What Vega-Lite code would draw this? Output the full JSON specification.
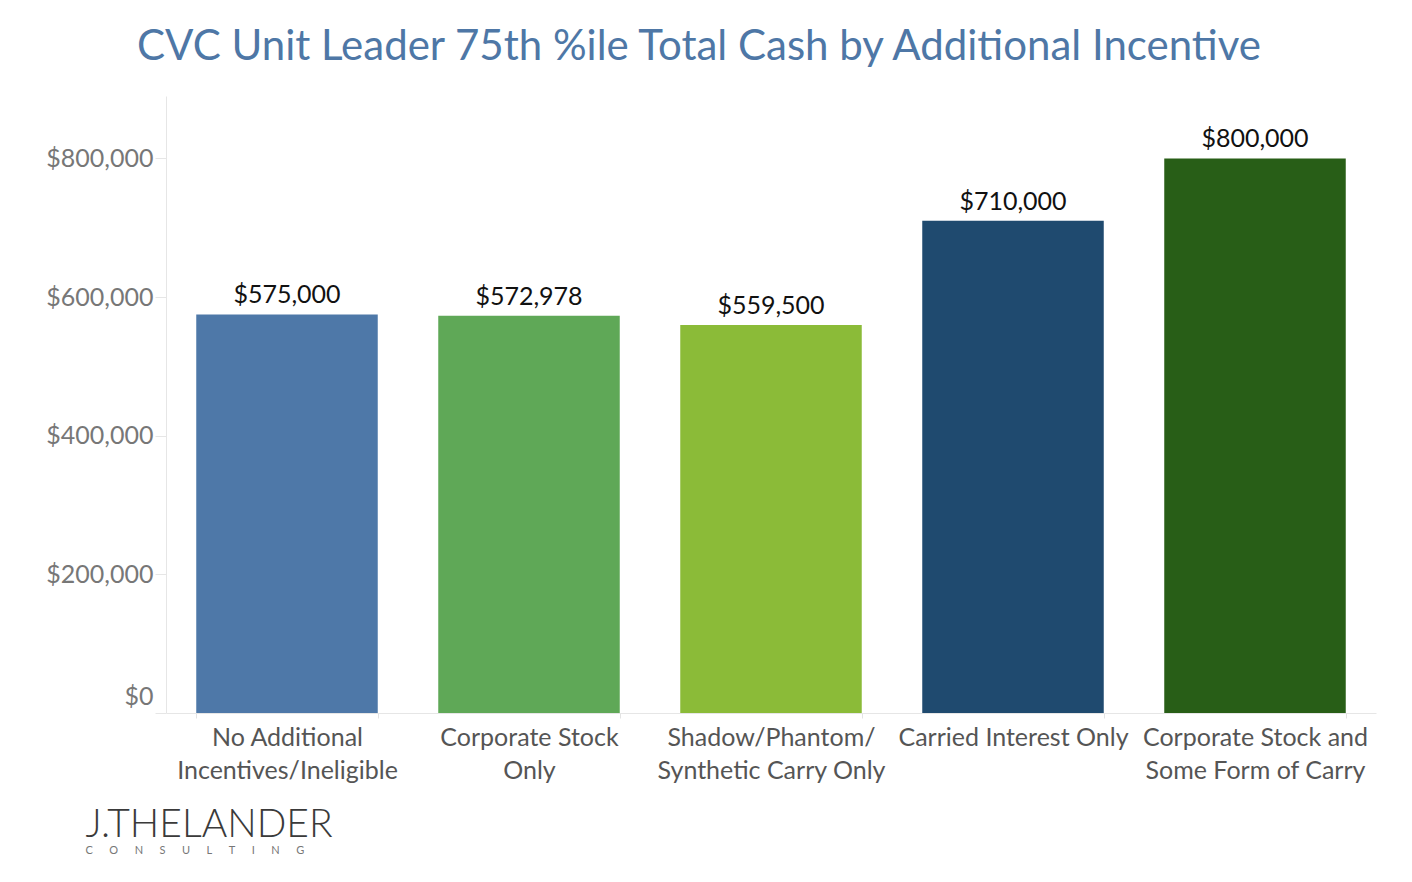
{
  "$schema": "https://vega.github.io/schema/vega-lite/v6.json",
  "autosize": "none",
  "padding": {"left": 166, "top": 96, "right": 36, "bottom": 169},
  "width": 1210,
  "height": 617,
  "background": "white",
  "title": {
    "text": "CVC Unit Leader 75th %ile Total Cash by Additional Incentive",
    "color": "#4e77a6",
    "font": "Lato",
    "fontSize": 42,
    "fontWeight": "normal",
    "anchor": "middle",
    "frame": "group",
    "dx": -72,
    "baseline": "alphabetic",
    "offset": -6
  },
  "config": {"view": {"stroke": null}},
  "data": {
    "values": [
      {"category": "No Additional Incentives/Ineligible", "value": 575000},
      {"category": "Corporate Stock Only", "value": 572978},
      {"category": "Shadow/Phantom/Synthetic Carry Only", "value": 559500},
      {"category": "Carried Interest Only", "value": 710000},
      {"category": "Corporate Stock and Some Form of Carry", "value": 800000}
    ]
  },
  "encoding": {
    "x": {
      "field": "category",
      "type": "nominal",
      "sort": null,
      "scale": {"paddingInner": 0.25, "paddingOuter": 0.125},
      "axis": {
        "title": "J.THELANDER",
        "titleFont": "Lato",
        "titleFontSize": 39,
        "titleFontWeight": 300,
        "titleColor": "#3a3a3a",
        "titleX": -81,
        "titleY": 123,
        "titleAlign": "left",
        "titleBaseline": "alphabetic",
        "labelAngle": 0,
        "labelFont": "Lato",
        "labelFontSize": 25,
        "labelColor": "#555555",
        "labelLineHeight": 33,
        "labelPadding": 7,
        "labelLimit": 400,
        "labelOverlap": false,
        "labelBaseline": "top",
        "labelExpr": "datum.value == 'No Additional Incentives/Ineligible' ? ['No Additional', 'Incentives/Ineligible'] : datum.value == 'Corporate Stock Only' ? ['Corporate Stock', 'Only'] : datum.value == 'Shadow/Phantom/Synthetic Carry Only' ? ['Shadow/Phantom/', 'Synthetic Carry Only'] : datum.value == 'Corporate Stock and Some Form of Carry' ? ['Corporate Stock and', 'Some Form of Carry'] : datum.value",
        "tickBand": "extent",
        "tickSize": 5,
        "tickColor": "#e3e3e3",
        "domainColor": "#e6e6e6",
        "grid": false
      }
    },
    "y": {
      "field": "value",
      "type": "quantitative",
      "scale": {"domain": [0, 890000], "nice": false},
      "axis": {
        "title": "C\u2003\u2003O\u2003\u2003N\u2003\u2003S\u2003\u2003U\u2003\u2003L\u2003\u2003T\u2003\u2003I\u2003\u2003N\u2003\u2003G",
        "titleFont": "Lato",
        "titleFontSize": 11,
        "titleFontWeight": "normal",
        "titleColor": "#777777",
        "titleAngle": 0,
        "titleX": -81,
        "titleY": 757,
        "titleAlign": "left",
        "titleBaseline": "alphabetic",
        "values": [0, 200000, 400000, 600000, 800000],
        "format": "$,.0f",
        "labelFont": "Lato",
        "labelFontSize": 25,
        "labelColor": "#777777",
        "labelPadding": 2,
        "labelFlush": true,
        "labelFlushOffset": -4,
        "tickSize": 11,
        "tickColor": "#e6e6e6",
        "domainColor": "#e6e6e6",
        "grid": false
      }
    }
  },
  "layer": [
    {
      "mark": {"type": "bar"},
      "encoding": {
        "color": {
          "field": "category",
          "type": "nominal",
          "legend": null,
          "scale": {
            "domain": ["No Additional Incentives/Ineligible", "Corporate Stock Only", "Shadow/Phantom/Synthetic Carry Only", "Carried Interest Only", "Corporate Stock and Some Form of Carry"],
            "range": ["#4e78a8", "#5fa857", "#8bbb38", "#1f4a6f", "#285e17"]
          }
        }
      }
    },
    {
      "mark": {"type": "text", "font": "Lato", "fontSize": 25, "color": "#111111", "baseline": "alphabetic", "dy": -11},
      "encoding": {
        "text": {"field": "value", "type": "quantitative", "format": "$,.0f"}
      }
    }
  ]
}
